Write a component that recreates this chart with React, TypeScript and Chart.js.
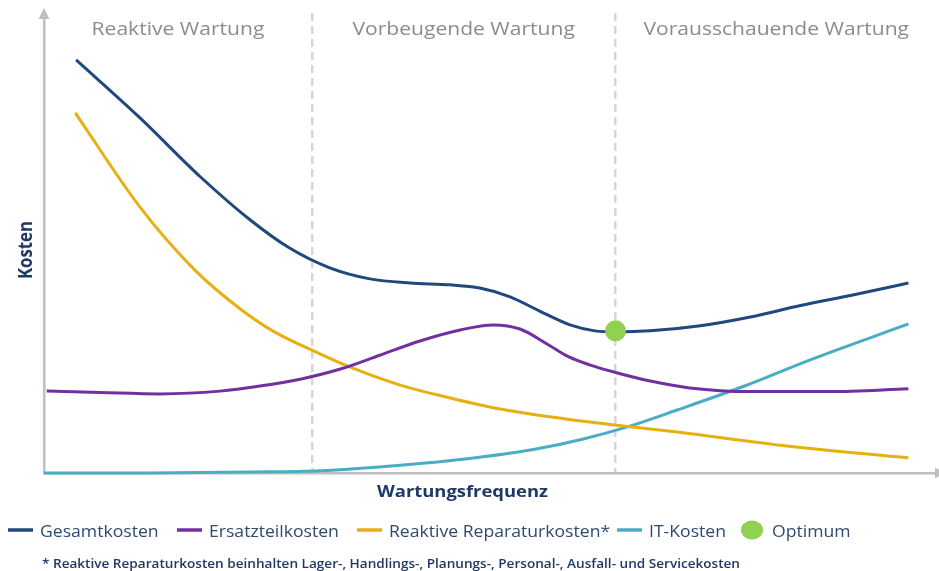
import React, { useEffect, useRef } from "react";
import { Chart, registerables } from "chart.js";

Chart.register(...registerables);

// ---- data (x = Wartungsfrequenz 0..100, y = Kosten 0..100) ----
const gesamtX = [3.6, 10.75, 17.5, 23.1, 27.5, 32.0, 36.5, 41.0, 45.5, 48.8, 52.2, 55.5, 58.9, 61.7, 64.1, 67.9, 73.5, 79.1, 84.7, 90.3, 96.8];
const gesamtY = [89.8, 77.2, 64.4, 55.0, 48.9, 44.6, 42.2, 41.3, 40.9, 40.2, 38.3, 35.2, 32.2, 30.9, 30.65, 30.9, 32.0, 33.9, 36.4, 38.6, 41.3];

const ersatzX = [0.3, 6.3, 13.0, 19.7, 24.2, 28.7, 33.2, 37.6, 42.1, 46.6, 50.3, 53.3, 56.7, 58.6, 61.1, 64.1, 67.9, 72.3, 79.1, 88.0, 96.8];
const ersatzY = [17.8, 17.5, 17.2, 17.8, 18.9, 20.4, 22.6, 25.6, 28.7, 31.1, 32.2, 31.3, 27.6, 25.4, 23.5, 21.8, 20.0, 18.5, 17.7, 17.7, 18.3];

const reparaturX = [3.5, 10.75, 16.9, 21.95, 25.6, 30.9, 34.3, 39.9, 45.5, 51.1, 58.6, 64.1, 70.9, 82.1, 96.8];
const reparaturY = [78.3, 57.8, 44.1, 35.7, 30.9, 25.9, 23.0, 19.1, 16.3, 13.9, 11.7, 10.4, 8.9, 6.1, 3.3];

const itX = [0, 11.9, 23.1, 30.9, 39.9, 47.4, 54.8, 60.4, 65.6, 70.9, 78.3, 85.8, 96.8];
const itY = [0, 0, 0.2, 0.5, 1.7, 3.1, 5.1, 7.4, 10.2, 13.7, 18.8, 24.6, 32.4];

const optimumX = [64];
const optimumY = [30.9];

const phaseLabels = ["Reaktive Wartung", "Vorbeugende Wartung", "Vorausschauende Wartung"];
const phaseBounds = [0, 30, 64, 100];

const seriesLabels = ["Gesamtkosten", "Ersatzteilkosten", "Reaktive Reparaturkosten*", "IT-Kosten", "Optimum"];
const seriesColors = ["#1f497d", "#7030a0", "#e6b012", "#4bacc6", "#92d050"];

const xTitle = "Wartungsfrequenz";
const yTitle = "Kosten";
const footnote = "* Reaktive Reparaturkosten beinhalten Lager-, Handlings-, Planungs-, Personal-, Ausfall- und Servicekosten";

const zip = (xs: number[], ys: number[]) => xs.map((x, i) => ({ x, y: ys[i] }));

const FONT = "'Open Sans', sans-serif";

function stretchedText(ctx: any, text: string, x: number, y: number, sx: number) {
  ctx.save();
  ctx.translate(x, y);
  ctx.scale(sx, 1);
  ctx.fillText(text, 0, 0);
  ctx.restore();
}

const legendStarts = [8, 177, 357, 617, 741];

const decorPlugin = {
  id: "decor",
  afterDraw(chart: any) {
    const { ctx, chartArea: a, scales } = chart;
    const xs = scales.x;
    ctx.save();

    // axis arrowheads
    ctx.fillStyle = "#bfbfbf";
    ctx.beginPath();
    ctx.moveTo(a.left, a.top - 5);
    ctx.lineTo(a.left - 5.5, a.top + 6);
    ctx.lineTo(a.left + 5.5, a.top + 6);
    ctx.closePath();
    ctx.fill();
    ctx.beginPath();
    ctx.moveTo(a.right + 8, a.bottom);
    ctx.lineTo(a.right - 2, a.bottom - 5.5);
    ctx.lineTo(a.right - 2, a.bottom + 5.5);
    ctx.closePath();
    ctx.fill();

    ctx.textBaseline = "alphabetic";

    // phase labels
    ctx.font = `18px ${FONT}`;
    ctx.fillStyle = "#8c8c8c";
    ctx.textAlign = "center";
    phaseLabels.forEach((label, i) => {
      const cx = xs.getPixelForValue((phaseBounds[i] + phaseBounds[i + 1]) / 2);
      stretchedText(ctx, label, cx, 35, 1.17);
    });

    // axis titles
    ctx.fillStyle = "#1f3864";
    ctx.font = `bold 16px ${FONT}`;
    stretchedText(ctx, xTitle, 462.5, 497, 1.15);
    ctx.save();
    ctx.font = `bold 16.8px ${FONT}`;
    ctx.translate(31.5, 250);
    ctx.rotate(-Math.PI / 2);
    ctx.scale(1, 1.15);
    ctx.fillText(yTitle, 0, 0);
    ctx.restore();

    // legend
    ctx.font = `16px ${FONT}`;
    ctx.textAlign = "left";
    const ly = 530;
    chart.data.datasets
      .slice()
      .sort((p: any, q: any) => p.legendIndex - q.legendIndex)
      .forEach((ds: any, i: number) => {
        let x = legendStarts[i];
        if (ds.type === "scatter") {
          ctx.fillStyle = ds.backgroundColor;
          ctx.beginPath();
          ctx.ellipse(x + 11, ly, 11, 9.5, 0, 0, Math.PI * 2);
          ctx.fill();
          x += 22 + 9;
        } else {
          ctx.strokeStyle = ds.borderColor;
          ctx.lineWidth = 3.5;
          ctx.beginPath();
          ctx.moveTo(x, ly);
          ctx.lineTo(x + 25, ly);
          ctx.stroke();
          x += 25 + 7;
        }
        ctx.fillStyle = "#2f4a6f";
        stretchedText(ctx, ds.label, x, 536.5, 1.1);
      });

    // footnote
    ctx.font = `600 12.5px ${FONT}`;
    ctx.fillStyle = "#1f3864";
    stretchedText(ctx, footnote, 42, 567.5, 1.086);

    ctx.restore();
  },
};

export default function App() {
  const canvasRef = useRef<HTMLCanvasElement | null>(null);

  useEffect(() => {
    const canvas = canvasRef.current;
    if (!canvas) return;
    const lineDs = (label: string, color: string, data: { x: number; y: number }[], idx: number) => ({
      type: "line" as const,
      label,
      legendIndex: idx,
      data,
      borderColor: color,
      backgroundColor: color,
      borderWidth: 3,
      pointRadius: 0,
      cubicInterpolationMode: "monotone" as const,
      fill: false,
      clip: false as any,
      order: idx,
    });
    const chart = new Chart(canvas, {
      type: "line",
      data: {
        datasets: [
          {
            type: "scatter",
            label: seriesLabels[4],
            legendIndex: 4,
            data: zip(optimumX, optimumY),
            backgroundColor: seriesColors[4],
            borderColor: seriesColors[4],
            borderWidth: 0,
            pointRadius: 10.5,
            clip: false,
            order: -1,
          } as any,
          lineDs(seriesLabels[0], seriesColors[0], zip(gesamtX, gesamtY), 0),
          lineDs(seriesLabels[1], seriesColors[1], zip(ersatzX, ersatzY), 1),
          lineDs(seriesLabels[2], seriesColors[2], zip(reparaturX, reparaturY), 2),
          lineDs(seriesLabels[3], seriesColors[3], zip(itX, itY), 3),
        ],
      },
      options: {
        responsive: false,
        animation: false,
        devicePixelRatio: 1,
        layout: { autoPadding: false, padding: { left: 44, right: 2, top: 13, bottom: 98 } },
        plugins: {
          legend: { display: false },
          tooltip: { enabled: false },
        },
        scales: {
          x: {
            type: "linear",
            min: 0,
            max: 100,
            afterBuildTicks: (scale: any) => {
              scale.ticks = phaseBounds.slice(1, -1).map((v) => ({ value: v }));
            },
            ticks: { display: false },
            grid: { display: true, drawTicks: false, color: "#d6d6d6", lineWidth: 2.5 },
            border: { display: true, color: "#bfbfbf", width: 2.5, dash: [8, 5] },
          },
          y: {
            type: "linear",
            min: 0,
            max: 100,
            ticks: { display: false },
            grid: { display: false, drawTicks: false },
            border: { display: true, color: "#bfbfbf", width: 2.5 },
          },
        },
      },
      plugins: [decorPlugin],
    } as any);
    return () => chart.destroy();
  }, []);

  return (
    <div style={{ position: "fixed", left: 0, top: 0, width: 939, height: 571, background: "#ffffff" }}>
      <canvas ref={canvasRef} width={939} height={571} />
    </div>
  );
}
